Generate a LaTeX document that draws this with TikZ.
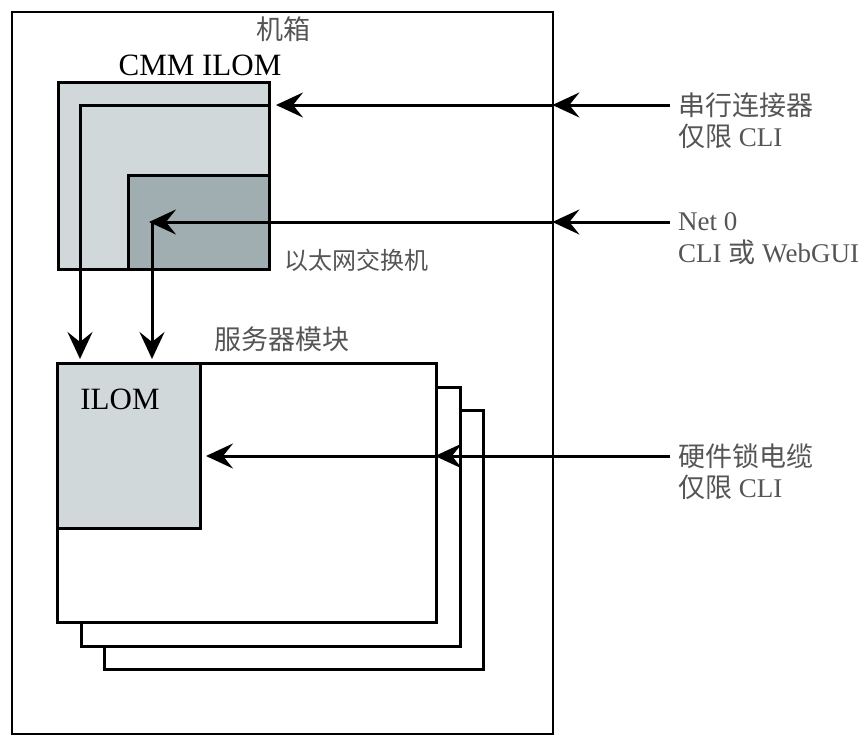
\documentclass[tikz,border=0pt]{standalone}
\usepackage{fontspec}
\setmainfont{Liberation Serif}
\newfontfamily\cjk{Noto Sans CJK SC}
\usetikzlibrary{arrows.meta,positioning}
\definecolor{lightgr}{HTML}{D0D8DA}
\definecolor{darkgr}{HTML}{A1AEB1}
\definecolor{txtgr}{HTML}{555555}
\tikzset{
  box/.style={draw, line width=3pt, inner sep=0pt, anchor=north west},
  wire/.style={line width=3pt},
  arr/.style={wire, -{Stealth[length=27pt,width=25pt,inset=10pt]}},
  lbl/.style={font=\fontsize{27}{30}\selectfont, text=txtgr, inner sep=0pt, anchor=west},
  title/.style={font=\fontsize{31}{34}\selectfont, inner sep=0pt},
}

\begin{document}
\begin{tikzpicture}[x=1pt,y=-1pt]
    \useasboundingbox (0,0) rectangle (868,736);
    \node[box, line width=2.4pt, minimum width=541pt, minimum height=722pt] (chassis) at (11,11) {};
    \node[lbl, anchor=center] (chassislbl) at (283,29) {\cjk 机箱};

    \node[box, fill=lightgr, minimum width=211pt, minimum height=187pt] (cmm) at (57,81) {};
    \node[box, fill=darkgr, minimum width=141pt, minimum height=94pt] (switch) at (127,174) {};
    \node[title] (cmmlbl) at (200,65) {CMM ILOM};
    \node[lbl, font=\fontsize{24}{28}\selectfont] (switchlbl) at (284,260) {\cjk 以太网交换机};

    \foreach \i in {2,1,0}
        \node[box, fill=white, minimum width=379pt, minimum height=259pt] (blade\i) at (56+23.5*\i,362+23.5*\i) {};
    \node[box, fill=lightgr, minimum width=143pt, minimum height=165pt] (ilom) at (56,362) {};
    \node[title] (ilomlbl) at (120,399) {ILOM};
    \node[lbl, anchor=center] (bladelbl) at (282,339) {\cjk 服务器模块};

    \node[lbl] (serial) at (678,105) {\cjk 串行连接器};
    \node[lbl, below right=6pt and 0pt of serial.south west] (serial2) {{\cjk 仅限} CLI};
    \node[lbl] (net) at (678,222) {Net 0};
    \node[lbl, below right=8pt and 0pt of net.south west] (net2) {CLI {\cjk 或} WebGUI};
    \node[lbl] (cable) at (678,456) {\cjk 硬件锁电缆};
    \node[lbl, below right=6pt and 0pt of cable.south west] (cable2) {{\cjk 仅限} CLI};

    \coordinate (netend) at ([xshift=25pt]switch.west |- net.west);

    \draw[arr, shorten >=-2pt] ([xshift=-8pt]serial.west) -- (chassis.east |- serial.west);
    \draw[arr, shorten >=5pt] (chassis.east |- serial.west) -- (cmm.east |- serial.west);
    \draw[arr, shorten >=3pt] (cmm.east |- serial.west) -| ([xshift=24pt]blade0.north west);

    \draw[arr, shorten >=-2pt] ([xshift=-8pt]net.west) -- (chassis.east |- net.west);
    \draw[arr, shorten >=-3pt] (chassis.east |- net.west) -- (netend);
    \draw[arr, shorten >=3pt] (netend) -- (netend |- blade0.north);

    \draw[arr, shorten >=-3pt] ([xshift=-8pt]cable.west) -- (blade0.east |- cable.west);
    \draw[arr, shorten >=4pt] (blade0.east |- cable.west) -- (ilom.east |- cable.west);
\end{tikzpicture}
\end{document}
